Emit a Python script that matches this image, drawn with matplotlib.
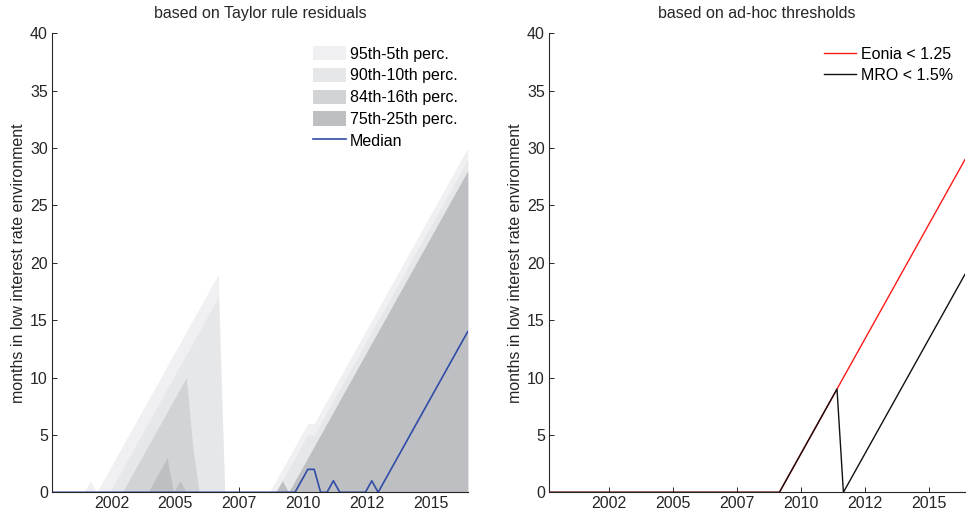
import numpy as np
import matplotlib
matplotlib.use("Agg")
import matplotlib.pyplot as plt

plt.rcParams["font.family"] = ["Liberation Sans", "DejaVu Sans"]

# quarterly observations, 2000Q1 .. 2016Q2 (index 1..66)
quarters = np.arange(1, 67)
tick_pos = [10.3, 20.3, 30.3, 40.3, 50.3, 60.3]
tick_labels = ["2002", "2005", "2007", "2010", "2012", "2015"]

# upper percentiles of the low-rate spell length (lower bounds are all zero)
p95 = [0, 0, 0, 0, 0, 0, 1, 0, 1, 2, 3, 4, 5, 6, 7, 8, 9, 10, 11, 12, 13, 14,
       15, 16, 17, 18, 19, 0, 0, 0, 0, 0, 0, 0, 0, 1, 2, 3, 4, 5, 6, 6, 7, 8,
       9, 10, 11, 12, 13, 14, 15, 16, 17, 18, 19, 20, 21, 22, 23, 24, 25, 26,
       27, 28, 29, 30]
p90 = [0, 0, 0, 0, 0, 0, 0, 0, 0, 0, 1, 2, 3, 4, 5, 6, 7, 8, 9, 10, 11, 12,
       13, 14, 15, 16, 17, 0, 0, 0, 0, 0, 0, 0, 0, 0, 1, 2, 3, 4, 5, 5, 6, 7,
       8, 9, 10, 11, 12, 13, 14, 15, 16, 17, 18, 19, 20, 21, 22, 23, 24, 25,
       26, 27, 28, 29]
p84 = [0, 0, 0, 0, 0, 0, 0, 0, 0, 0, 0, 0, 1, 2, 3, 4, 5, 6, 7, 8, 9, 10,
       4, 0, 0, 0, 0, 0, 0, 0, 0, 0, 0, 0, 0, 0, 1, 0, 1, 2, 3, 4, 5, 6,
       7, 8, 9, 10, 11, 12, 13, 14, 15, 16, 17, 18, 19, 20, 21, 22, 23, 24,
       25, 26, 27, 28]
p75 = [0, 0, 0, 0, 0, 0, 0, 0, 0, 0, 0, 0, 0, 0, 0, 0, 1, 2, 3, 0, 1, 0,
       0, 0, 0, 0, 0, 0, 0, 0, 0, 0, 0, 0, 0, 0, 1, 0, 1, 2, 3, 4, 5, 6,
       7, 8, 9, 10, 11, 12, 13, 14, 15, 16, 17, 18, 19, 20, 21, 22, 23, 24,
       25, 26, 27, 28]
median = [0, 0, 0, 0, 0, 0, 0, 0, 0, 0, 0, 0, 0, 0, 0, 0, 0, 0, 0, 0, 0, 0,
          0, 0, 0, 0, 0, 0, 0, 0, 0, 0, 0, 0, 0, 0, 0, 0, 0, 1, 2, 2, 0, 0,
          1, 0, 0, 0, 0, 0, 1, 0, 1, 2, 3, 4, 5, 6, 7, 8, 9, 10, 11, 12,
          13, 14]

# ad-hoc threshold counters
eonia = [0, 0, 0, 0, 0, 0, 0, 0, 0, 0, 0, 0, 0, 0, 0, 0, 0, 0, 0, 0, 0, 0,
         0, 0, 0, 0, 0, 0, 0, 0, 0, 0, 0, 0, 0, 0, 0, 1, 2, 3, 4, 5, 6, 7,
         8, 9, 10, 11, 12, 13, 14, 15, 16, 17, 18, 19, 20, 21, 22, 23, 24, 25,
         26, 27, 28, 29]
mro = [0, 0, 0, 0, 0, 0, 0, 0, 0, 0, 0, 0, 0, 0, 0, 0, 0, 0, 0, 0, 0, 0,
       0, 0, 0, 0, 0, 0, 0, 0, 0, 0, 0, 0, 0, 0, 0, 1, 2, 3, 4, 5, 6, 7,
       8, 9, 0, 1, 2, 3, 4, 5, 6, 7, 8, 9, 10, 11, 12, 13, 14, 15, 16, 17,
       18, 19]

bands = [
    (p95, "#f0f0f2", "95th-5th perc."),
    (p90, "#e6e7e9", "90th-10th perc."),
    (p84, "#d2d3d5", "84th-16th perc."),
    (p75, "#bebfc3", "75th-25th perc."),
]

TXT = "#262626"
FS = 11.5
W, H = 975, 514
fig = plt.figure(figsize=(W / 100, H / 100), dpi=100)
ax1 = fig.add_axes([52 / W, 1 - 492.3 / H, 415.7 / W, 459 / H])
ax2 = fig.add_axes([549 / W, 1 - 492.3 / H, 416 / W, 459 / H])


def style(ax, title):
    ax.set_xlim(1, 66)
    ax.set_ylim(0, 40)
    ax.set_yticks(range(0, 41, 5))
    ax.set_xticks(tick_pos)
    ax.set_xticklabels(tick_labels)
    ax.set_axisbelow(True)
    for s in ("top", "right"):
        ax.spines[s].set_visible(False)
    for s in ("left", "bottom"):
        ax.spines[s].set_color(TXT)
        ax.spines[s].set_linewidth(0.8)
    ax.tick_params(direction="in", length=3.3, width=0.7, colors=TXT,
                   labelsize=FS)
    ax.tick_params(axis="x", pad=3)
    ax.tick_params(axis="y", pad=3)
    ax.set_ylabel("months in low interest rate environment", fontsize=FS,
                  color=TXT, labelpad=3)
    ax.set_title(title, fontsize=FS, color=TXT, pad=11)


handles = []
for vals, col, lab in bands:
    h = ax1.fill_between(quarters, 0, vals, color=col, lw=0, label=lab)
    handles.append(h)
ln, = ax1.plot(quarters, median, color="#2f4da6", lw=1.2, label="Median")
handles.append(ln)
style(ax1, "based on Taylor rule residuals")
ax1.legend(handles=handles, loc="upper right", bbox_to_anchor=(0.976, 0.972),
           frameon=False, fontsize=FS, handlelength=2.06, handleheight=1.0,
           handletextpad=0.23, labelspacing=0.38, borderpad=0,
           borderaxespad=0)

ax2.plot(quarters, eonia, color="#ff1a1a", lw=1.0, label="Eonia < 1.25")
ax2.plot(quarters, mro, color="#111111", lw=1.0, label="MRO < 1.5%")
style(ax2, "based on ad-hoc thresholds")
ax2.legend(loc="upper right", bbox_to_anchor=(0.972, 0.97), frameon=False,
           fontsize=FS, handlelength=2.06, handletextpad=0.3,
           labelspacing=0.36, borderpad=0, borderaxespad=0)

fig.savefig("out.png", dpi=100)
